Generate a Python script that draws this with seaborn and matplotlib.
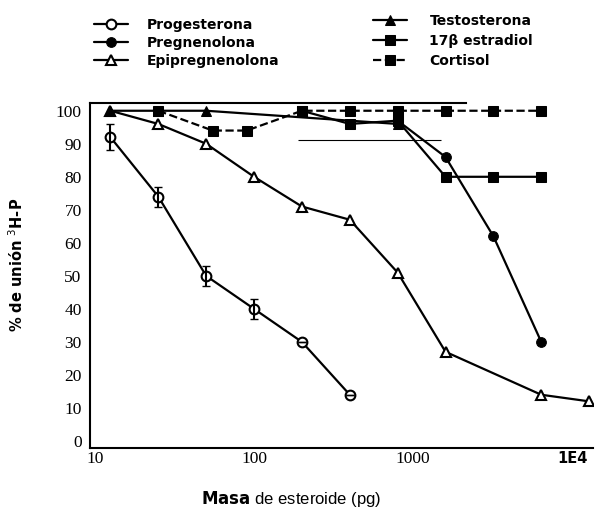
import numpy as np
import pandas as pd
import matplotlib
matplotlib.use("Agg")
import matplotlib.pyplot as plt
import seaborn as sns
from matplotlib.ticker import FixedLocator, FixedFormatter, NullLocator

# datos
prog_x = [12.5, 25, 50, 100, 200, 400]
prog_y = [92, 74, 50, 40, 30, 14]
prog_err = [4, 3, 3, 3, 0, 0]

preg_x = [800, 1600, 3200, 6400]
preg_y = [97, 86, 62, 30]

epi_x = [12.5, 25, 50, 100, 200, 400, 800, 1600, 6400, 12800]
epi_y = [100, 96, 90, 80, 71, 67, 51, 27, 14, 12]

testo_x = [12.5, 25, 50, 800]
testo_y = [100, 100, 100, 96]

estr_x = [200, 400, 800, 1600, 3200, 6400]
estr_y = [100, 96, 97, 80, 80, 80]

cort_x = [25, 55, 90, 200, 400, 800, 1600, 3200, 6400]
cort_y = [100, 94, 94, 100, 100, 100, 100, 100, 100]

x_ticks = [10, 100, 1000, 10000]
x_labels = ["10", "100", "1000", "1E4"]
y_ticks = [0, 10, 20, 30, 40, 50, 60, 70, 80, 90, 100]

sns.set_theme(style="white")
plt.rcParams['font.family'] = ['DejaVu Sans']
plt.rcParams['text.color'] = 'black'
plt.rcParams['axes.labelcolor'] = 'black'
plt.rcParams['xtick.color'] = 'black'
plt.rcParams['ytick.color'] = 'black'

fig = plt.figure(figsize=(6, 5.09), dpi=100)
ax = fig.add_axes([0.15, 0.12, 0.838, 0.678])

lw = 1.6
k = "black"

sns.lineplot(x=epi_x, y=epi_y, ax=ax, color=k, lw=lw, marker="^", markersize=7,
             markerfacecolor="white", markeredgecolor=k, markeredgewidth=1.5,
             label="Epipregnenolona", sort=False)
sns.lineplot(x=testo_x, y=testo_y, ax=ax, color=k, lw=lw, marker="^", markersize=7,
             markerfacecolor=k, markeredgecolor=k, label="Testosterona", sort=False)
sns.lineplot(x=estr_x, y=estr_y, ax=ax, color=k, lw=lw, marker="s", markersize=7,
             markerfacecolor=k, markeredgecolor=k, label="17β estradiol", sort=False)
sns.lineplot(x=cort_x, y=cort_y, ax=ax, color=k, lw=lw, linestyle="--", marker="s",
             markersize=7, markerfacecolor=k, markeredgecolor=k, label="Cortisol", sort=False)
sns.lineplot(x=preg_x, y=preg_y, ax=ax, color=k, lw=lw, marker="o", markersize=7,
             markerfacecolor=k, markeredgecolor=k, label="Pregnenolona", sort=False)
sns.lineplot(x=prog_x, y=prog_y, ax=ax, color=k, lw=lw, marker="o", markersize=7,
             markerfacecolor="white", markeredgecolor=k, markeredgewidth=1.5,
             label="Progesterona", sort=False)
ax.errorbar(prog_x, prog_y, yerr=prog_err, fmt="none", ecolor=k, elinewidth=1.5, capsize=3)

# linea fina horizontal del original
ax.hlines(91, 190, 1500, color=k, lw=0.8)

ax.set_xscale("log")
ax.set_xlim(9.3, 13500)
ax.set_ylim(-2.1, 102.4)
ax.xaxis.set_major_locator(FixedLocator(x_ticks))
ax.xaxis.set_major_formatter(FixedFormatter(x_labels))
ax.xaxis.set_minor_locator(NullLocator())
ax.set_yticks(y_ticks)
ax.tick_params(axis="y", length=0, pad=6, labelcolor=k)
ax.tick_params(axis="x", length=0, pad=2, labelcolor=k)
for t in ax.get_xticklabels() + ax.get_yticklabels():
    t.set_fontfamily("Liberation Serif")
    t.set_fontsize(12.5)
ax.get_xticklabels()[-1].set_fontfamily("DejaVu Sans")
ax.get_xticklabels()[-1].set_fontweight("bold")
ax.get_xticklabels()[-1].set_fontsize(10.5)

for s in ["left", "bottom", "top"]:
    ax.spines[s].set_color(k)
    ax.spines[s].set_linewidth(1.5)
ax.spines["right"].set_visible(False)
ax.spines["top"].set_bounds(9.3, 2140)

ax.set_ylabel("% de unión $^3$H-P", fontsize=10.5, fontweight="bold", color=k)
ax.yaxis.set_label_coords(-0.128, 0.53)
ax.set_xlabel(r"$\bf{Masa}$ de esteroide (pg)", fontsize=12, fontfamily="Liberation Sans", color=k)
ax.xaxis.set_label_coords(0.40, -0.12)

handles, labels = ax.get_legend_handles_labels()
hmap = dict(zip(labels, handles))
ax.legend_.remove()
col1 = ["Progesterona", "Pregnenolona", "Epipregnenolona"]
col2 = ["Testosterona", "17β estradiol", "Cortisol"]
leg1 = fig.legend([hmap[n] for n in col1], col1, loc="upper left",
                  bbox_to_anchor=(0.135, 0.99), frameon=False,
                  handlelength=2.5, handletextpad=1.3, labelspacing=0.3,
                  prop={"weight": "bold", "size": 10}, labelcolor=k)
leg2 = fig.legend([hmap[n] for n in col2], col2, loc="upper left",
                  bbox_to_anchor=(0.6, 0.998), frameon=False,
                  handlelength=2.5, handletextpad=1.6, labelspacing=0.45,
                  prop={"weight": "bold", "size": 10}, labelcolor=k)

fig.savefig("out.png", dpi=100, facecolor="white")
